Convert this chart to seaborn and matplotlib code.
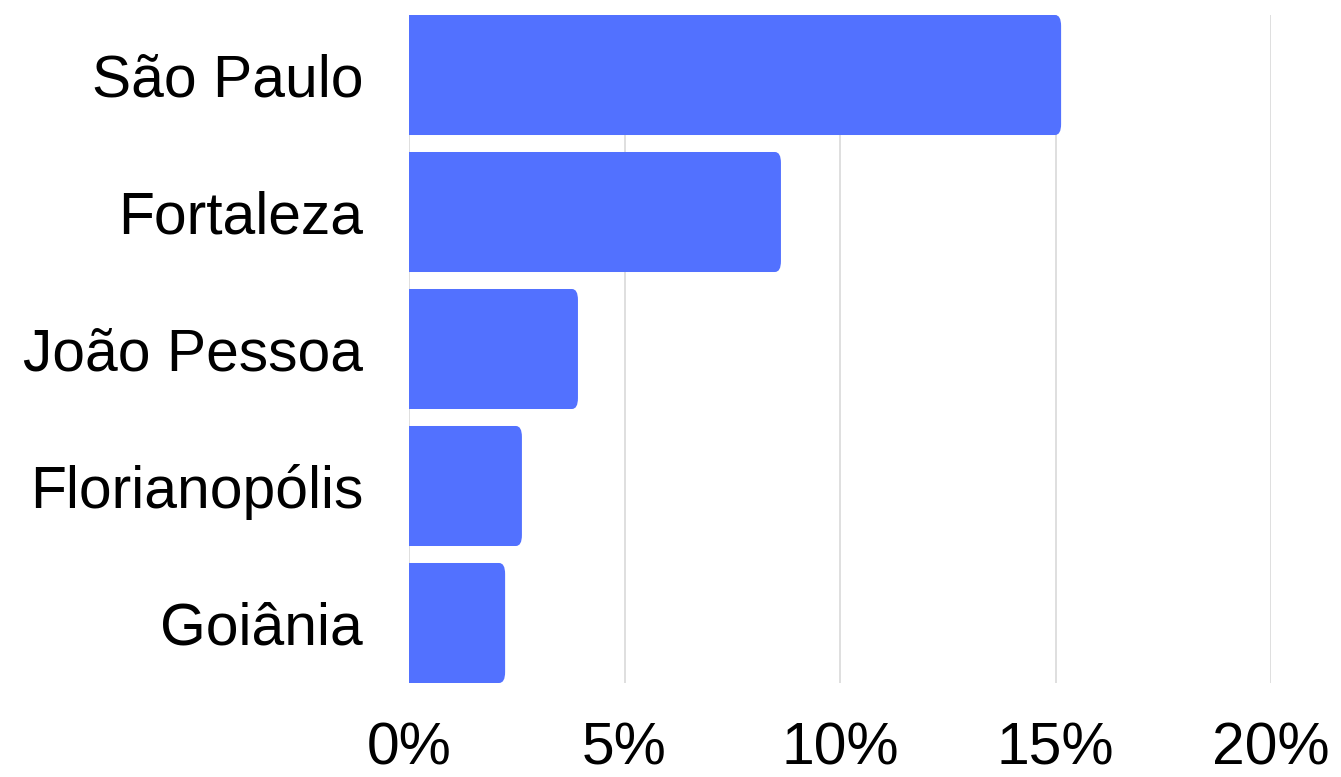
import matplotlib
matplotlib.use("Agg")
import matplotlib.pyplot as plt
import seaborn as sns
import pandas as pd
from matplotlib.patches import FancyBboxPatch

cities = ["São Paulo", "Fortaleza", "João Pessoa", "Florianopólis", "Goiânia"]
shares = [15.13, 8.63, 3.92, 2.62, 2.23]
xticks = [0, 5, 10, 15, 20]
xtick_labels = ["0%", "5%", "10%", "15%", "20%"]

sns.set_theme(style="white")
plt.rcParams["font.family"] = ["Liberation Sans", "DejaVu Sans"]

df = pd.DataFrame({"city": cities, "share": shares})

W, H, DPI = 1341, 777, 100
fig = plt.figure(figsize=(W / DPI, H / DPI), dpi=DPI)
ax = fig.add_axes([409 / W, 1 - 683 / H, (1271 - 409) / W, (683 - 15) / H])

color = "#5271FF"
sns.barplot(data=df, x="share", y="city", orient="h", color=color,
            width=0.876, saturation=1, ax=ax, zorder=2)

ax.set_xlim(0, 20)
ax.set_ylim(4.438, -0.438)

# replace bars with right-rounded versions
px_per_x = (1271 - 409) / 20.0
px_per_y = (683 - 15) / (4.438 * 2)
r_px = 6
for p in list(ax.patches):
    x0, y0 = p.get_x(), p.get_y()
    w, h = p.get_width(), p.get_height()
    p.remove()
    ext = 0.5
    fb = FancyBboxPatch((x0 - ext, y0), w + ext, h,
                        boxstyle=f"round,pad=0,rounding_size={r_px / px_per_x}",
                        mutation_aspect=px_per_x / px_per_y,
                        facecolor=color, edgecolor="none", zorder=2)
    ax.add_patch(fb)

ax.set_xticks(xticks)
ax.set_xticklabels(xtick_labels)
ax.grid(axis="x", color="#d6d6d6", linewidth=1.1, zorder=0)
ax.grid(axis="y", visible=False)
for s in ax.spines.values():
    s.set_visible(False)
ax.tick_params(axis="x", length=0, pad=28, labelsize=42.3, labelcolor="black")
ax.tick_params(axis="y", length=0, pad=33, labelsize=42.3, labelcolor="black")
ax.set_xlabel("")
ax.set_ylabel("")

fig.savefig("out.png", dpi=DPI, facecolor="white")
